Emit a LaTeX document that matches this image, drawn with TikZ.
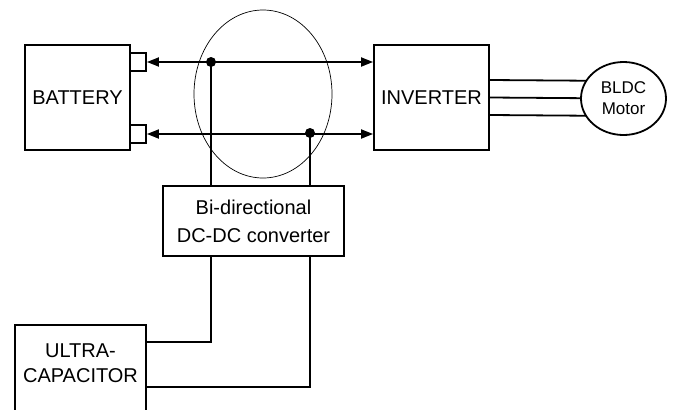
\documentclass[tikz,border=0pt]{standalone}
\usepackage{fontspec}
\setmainfont{Liberation Sans}
\usetikzlibrary{positioning, arrows.meta, shapes.geometric, calc, backgrounds}

\begin{document}
\begin{tikzpicture}[
  x=1pt, y=-1pt,
  % --- Style definitions ---
  block/.style={draw, line width=1.8pt, align=center, inner sep=0pt,
                font=\fontsize{20}{25}\selectfont},
  term/.style={draw, line width=1.8pt, minimum width=16pt, minimum height=18pt, inner sep=0pt},
  motorbox/.style={draw, ellipse, line width=1.8pt, fill=white, minimum width=85pt,
                   minimum height=73pt, inner sep=0pt, align=center,
                   font=\fontsize{17}{21}\selectfont},
  bus/.style={{Triangle[length=12pt,width=9pt]}-{Triangle[length=12pt,width=9pt]}, line width=1.8pt},
  wire/.style={line width=1.8pt},
  jdot/.style={circle, fill=black, minimum size=10pt, inner sep=0pt},
  zone/.style={draw, ellipse, line width=0.7pt, minimum width=138pt, minimum height=168pt},
]

\clip (0,0) rectangle (673,410);

% ===== Nodes =====

% --- Battery with its two terminals ---
\node[block, minimum width=105pt, minimum height=105pt] (bat) at (77.5,97.5) {BATTERY};
\node[term] (tp) at (138,62) {};
\node[term] (tn) at (138,134) {};

% --- Inverter and motor ---
\node[block, minimum width=115pt, minimum height=105pt] (inv) at (431.5,97.5) {INVERTER};
\node[motorbox] (motor) at (623.5,98.5) {BLDC\\Motor};

% --- Converter (centre) and ultra-capacitor (bottom left) ---
\node[block, minimum width=181pt, minimum height=70pt,
      font=\fontsize{20}{28}\selectfont] (conv) at (253.5,221) {Bi-directional\\DC-DC converter};
\node[block, anchor=north, minimum width=131pt, text depth=45pt,
      inner ysep=19pt] (ucap) at (80.5,324) {ULTRA-\\CAPACITOR};

% --- Junctions on the DC bus ---
\node[jdot] (j1) at (211,62) {};
\node[jdot] (j2) at (310,133) {};
\node[zone] (ring) at (263,94) {};

\coordinate (u1) at ([yshift=-18pt]ucap.north east);
\coordinate (u2) at ([yshift=-63pt]ucap.north east);

% ===== Arrows =====

% DC bus between battery and inverter
\draw[bus] (tp.east) -- (inv.west |- tp.east);
\draw[bus] (tn.east) -- (inv.west |- tn.east);

% Bus taps to the converter
\draw[wire] (j1.center) -- (j1 |- conv.north);
\draw[wire] (j2.center) -- (j2 |- conv.north);

% Converter to ultra-capacitor
\draw[wire] (j1 |- conv.south) |- (u1);
\draw[wire] (j2 |- conv.south) |- (u2);

% Three phases to the motor
\begin{scope}[on background layer]
  \foreach \dy in {-17.5,0,17.5}
    \draw[wire] ($(inv.east)+(0,\dy)$) -- ($(motor.center)+(0,\dy)$);
\end{scope}

\end{tikzpicture}
\end{document}
